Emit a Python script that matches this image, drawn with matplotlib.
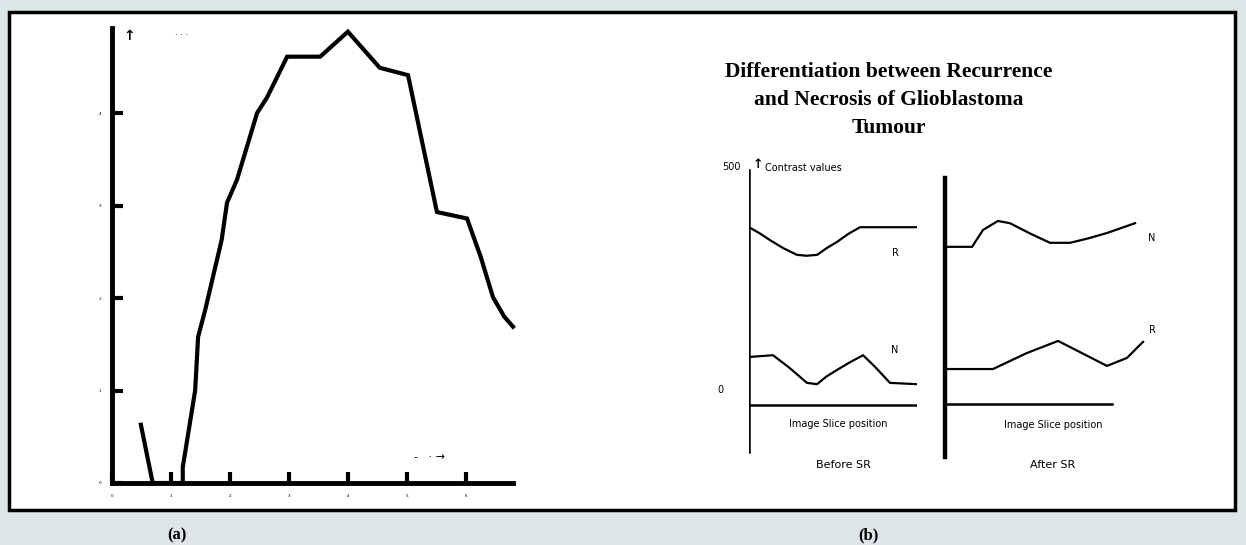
import matplotlib
matplotlib.use("Agg")
import matplotlib.pyplot as plt
from matplotlib.patches import Rectangle

# ---------------- data ----------------
# (a) left chart
a_seg1_x = [0.49, 0.69]
a_seg1_y = [0.63, 0.0]
a_x = [0.69, 1.20, 1.20, 1.41, 1.46, 1.58, 1.86, 1.95, 2.12, 2.46, 2.63, 2.97, 3.53, 4.00, 4.54, 5.02, 5.51, 6.02, 6.25, 6.46, 6.65, 6.80]
a_y = [0.0, 0.0, 0.17, 1.00, 1.58, 1.87, 2.63, 3.03, 3.28, 4.00, 4.17, 4.61, 4.61, 4.88, 4.49, 4.41, 2.93, 2.86, 2.45, 2.01, 1.80, 1.69]
a_xticks = [0, 1, 2, 3, 4, 5, 6]
a_yticks = [0, 1, 2, 3, 4]
a_xticklabels = ['0', '1', '2', '3', '4', '5', '6']
a_yticklabels = ['0', '1', '2', '3', '4']

# (b) panels
before_R_x = [0, 0.65, 1.25, 2.04, 2.86, 3.43, 4.05, 4.62, 5.24, 5.91, 6.61, 10]
before_R_y = [365, 351, 336, 318, 303, 301, 303, 318, 332, 350, 365, 365]
before_N_x = [0, 1.43, 2.40, 3.45, 4.05, 4.60, 5.24, 6.00, 6.79, 7.50, 8.39, 10]
before_N_y = [74, 78, 50, 16, 13, 30, 45, 62, 78, 52, 16, 13]
after_N_x = [0, 1.62, 2.28, 3.17, 3.89, 5.09, 6.29, 7.49, 8.58, 9.70, 11.38]
after_N_y = [321, 321, 359, 379, 374, 351, 330, 330, 340, 352, 374]
after_R_x = [0, 2.87, 4.91, 6.77, 8.08, 9.70, 10.9, 11.86]
after_R_y = [47, 47, 83, 110, 85, 54, 72, 108]

title_lines = ["Differentiation between Recurrence",
               "and Necrosis of Glioblastoma",
               "Tumour"]

W, H = 1246, 545
fig = plt.figure(figsize=(W / 100, H / 100), dpi=100)
fig.patch.set_facecolor('#dde5e6')


def fx(px):
    return px / W


def fy(py):
    return 1 - py / H


# white panel with black border
fig.patches.append(Rectangle((fx(9), fy(510)), fx(1235) - fx(9), fy(12) - fy(510),
                             transform=fig.transFigure, facecolor='white',
                             edgecolor='black', linewidth=2.5, zorder=-10))

# ---------------- (a) ----------------
ax = fig.add_axes([fx(112), fy(483), fx(513) - fx(112), fy(28) - fy(483)])
ax.set_facecolor('none')
ax.plot(a_seg1_x, a_seg1_y, color='black', lw=3, solid_joinstyle='miter', clip_on=False)
ax.plot(a_x, a_y, color='black', lw=3, solid_joinstyle='miter', clip_on=False)
ax.set_xlim(0, 6.8)
ax.set_ylim(0, 4.92)
for s in ['top', 'right']:
    ax.spines[s].set_visible(False)
for s in ['left', 'bottom']:
    ax.spines[s].set_linewidth(3.5)
ax.set_xticks(a_xticks)
ax.set_yticks(a_yticks)
ax.set_xticklabels(a_xticklabels, fontsize=3)
ax.set_yticklabels(a_yticklabels, fontsize=3)
ax.tick_params(direction='in', length=8, width=3, pad=8)
fig.text(fx(129), fy(36), '↑', fontsize=10, fontweight='bold', ha='center', va='center')
fig.text(fx(182), fy(35), '· · ·', fontsize=6, ha='center', va='center')
fig.text(fx(430), fy(457), '-   · →', fontsize=8, ha='center', va='center')

# ---------------- (b) ----------------
for i, line in enumerate(title_lines):
    fig.text(fx(889), fy(72 + 28 * i), line, fontsize=15.5, fontweight='bold',
             family='Liberation Serif', ha='center', va='center')

yscale = 500 / 223.0  # data units per pixel


def ydat(py):
    return (390 - py) * yscale


# Before SR
bx0, bx1 = 749, 917
axb = fig.add_axes([fx(bx0), fy(460), fx(bx1) - fx(bx0), fy(150) - fy(460)])
axb.set_xlim(0, 10)
axb.set_ylim(ydat(460), ydat(150))
axb.axis('off')
axb.plot([0, 0], [ydat(452), ydat(170)], color='black', lw=1.8)
axb.plot([0, 10], [ydat(405), ydat(405)], color='black', lw=1.8)
axb.plot(before_R_x, before_R_y, color='black', lw=1.6)
axb.plot(before_N_x, before_N_y, color='black', lw=1.6)
fig.text(fx(895), fy(253), 'R', fontsize=7, ha='center', va='center')
fig.text(fx(895), fy(350), 'N', fontsize=7, ha='center', va='center')
fig.text(fx(731), fy(167), '500', fontsize=7, ha='center', va='center')
fig.text(fx(720), fy(390), '0', fontsize=7, ha='center', va='center')
fig.text(fx(758), fy(165), '↑', fontsize=9, fontweight='bold', ha='center', va='center')
fig.text(fx(765), fy(168), 'Contrast values', fontsize=7, ha='left', va='center')
fig.text(fx(838), fy(424), 'Image Slice position', fontsize=7, ha='center', va='center')
fig.text(fx(843), fy(465), 'Before SR', fontsize=8, ha='center', va='center')

# After SR
ax0, ax1 = 945, 1112
axa = fig.add_axes([fx(ax0), fy(460), fx(ax1) - fx(ax0), fy(150) - fy(460)])
axa.set_xlim(0, 10)
axa.set_ylim(ydat(460), ydat(150))
axa.axis('off')
axa.plot([0, 0], [ydat(457), ydat(178)], color='black', lw=3.2, clip_on=False)
axa.plot([0, 10], [ydat(404), ydat(404)], color='black', lw=1.8, clip_on=False)
axa.plot(after_N_x, after_N_y, color='black', lw=1.6, clip_on=False)
axa.plot(after_R_x, after_R_y, color='black', lw=1.6, clip_on=False)
fig.text(fx(1152), fy(238), 'N', fontsize=7, ha='center', va='center')
fig.text(fx(1152), fy(330), 'R', fontsize=7, ha='center', va='center')
fig.text(fx(1053), fy(425), 'Image Slice position', fontsize=7, ha='center', va='center')
fig.text(fx(1053), fy(465), 'After SR', fontsize=8, ha='center', va='center')

# panel labels
fig.text(fx(177), fy(535), '(a)', fontsize=12, fontweight='bold', family='Liberation Serif',
         ha='center', va='center')
fig.text(fx(868), fy(535), '(b)', fontsize=12, fontweight='bold', family='Liberation Serif',
         ha='center', va='center')

fig.savefig('out.png', dpi=100, facecolor=fig.get_facecolor())
